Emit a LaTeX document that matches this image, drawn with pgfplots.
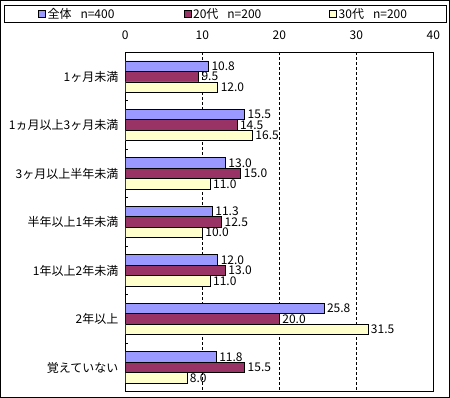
\documentclass[border=0pt]{standalone}
\usepackage{fontspec}
\setmainfont{Noto Sans CJK JP}
\usepackage{pgfplots}
\pgfplotsset{compat=1.18}
\definecolor{cA}{HTML}{9999FF}
\definecolor{cB}{HTML}{993366}
\definecolor{cC}{HTML}{FFFFCC}
\begin{document}
\begin{tikzpicture}[font=\fontsize{12pt}{14pt}\selectfont]
\draw[line width=1pt] (0.5pt,-0.5pt) rectangle (449.5pt,-397.5pt);
\begin{axis}[
  at={(125.3pt,-391.7pt)}, anchor=south west,
  scale only axis, width=308pt, height=339.4pt,
  xbar, bar width=10.5pt,
  xmin=0, xmax=40, xtick={0,10,20,30,40},
  xticklabel pos=right,
  xticklabel style={yshift=9pt},
  xmajorgrids, grid style={black, line width=0.6pt, dash pattern=on 3pt off 2pt},
  y dir=reverse, ymin=-0.5, ymax=6.5,
  ytick={0,...,6}, ytick pos=left,
  yticklabels={1ヶ月未満,1ヵ月以上3ヶ月未満,3ヶ月以上半年未満,半年以上1年未満,1年以上2年未満,2年以上,覚えていない},
  yticklabel style={xshift=-3.5pt},
  minor ytick={0.5,1.5,...,5.5},
  major tick length=0pt, minor tick length=3pt, tick align=inside,
  minor tick style={black, line width=0.6pt},
  axis line style={line width=0.8pt},
  /pgf/number format/assume math mode=true,
  nodes near coords,
  every node near coord/.append style={anchor=west, inner xsep=2.8pt, inner ysep=1pt, /pgf/number format/fixed, /pgf/number format/fixed zerofill, /pgf/number format/precision=1},
  every axis plot/.append style={draw=black, line width=0.6pt},
  legend columns=3,
  legend image code/.code={\draw[#1, line width=0.6pt] (0pt,-3.5pt) rectangle (7pt,3.5pt);},
  legend style={at={(0.3247,1.1128)}, anchor=center, draw=black, line width=0.8pt, inner xsep=34pt, inner ysep=1pt, font=\fontsize{12pt}{14pt}\selectfont},
]
\addplot[fill=cA, bar shift=10.5pt] coordinates {(10.8,0) (15.5,1) (13.0,2) (11.3,3) (12.0,4) (25.8,5) (11.8,6)};
\addplot[fill=cB, bar shift=0pt] coordinates {(9.5,0) (14.5,1) (15.0,2) (12.5,3) (13.0,4) (20.0,5) (15.5,6)};
\addplot[fill=cC, bar shift=-10.5pt] coordinates {(12.0,0) (16.5,1) (11.0,2) (10.0,3) (11.0,4) (31.5,5) (8.0,6)};
\legend{\makebox[134pt][l]{全体\hspace{9pt}n=400},\makebox[134pt][l]{20代\hspace{9pt}n=200},\makebox[72pt][l]{30代\hspace{9pt}n=200}}
\end{axis}
\end{tikzpicture}
\end{document}
